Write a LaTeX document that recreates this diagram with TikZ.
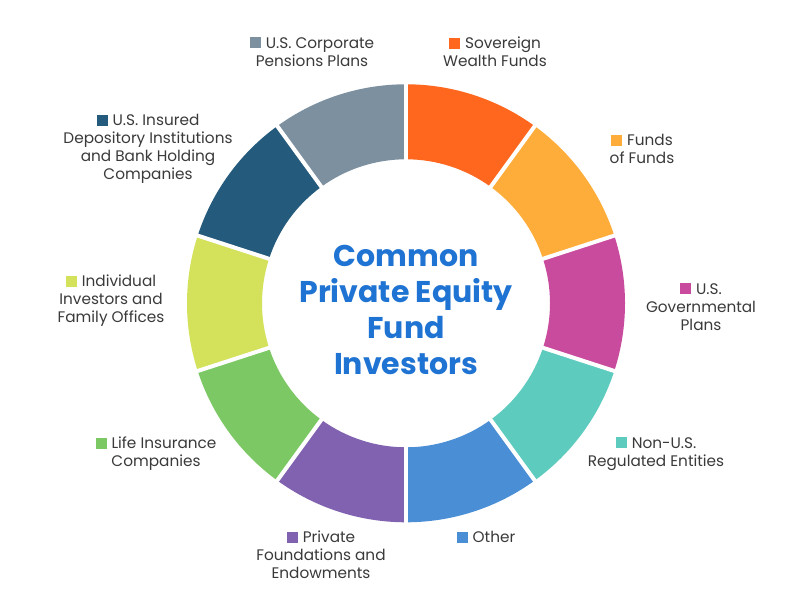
\documentclass[tikz,border=0pt]{standalone}
\usepackage{fontspec}
\setmainfont{Poppins}
\definecolor{cSov}{HTML}{FF671F}
\definecolor{cFof}{HTML}{FFAD3A}
\definecolor{cGov}{HTML}{C94B9D}
\definecolor{cNon}{HTML}{5ECBBF}
\definecolor{cOth}{HTML}{4A8FD6}
\definecolor{cPri}{HTML}{8062B0}
\definecolor{cLif}{HTML}{7CC864}
\definecolor{cInd}{HTML}{D4E15A}
\definecolor{cIns}{HTML}{245A7C}
\definecolor{cCor}{HTML}{7D90A0}
\definecolor{cTitle}{HTML}{1F73D2}
\definecolor{cText}{HTML}{3A3A3A}
\newcommand{\sqmark}[1]{\textcolor{#1}{\rule{11pt}{11pt}}\hspace{5pt}}
\tikzset{
  lab/.style={align=center, text=cText, inner sep=0pt, font=\fontsize{15.3}{18}\selectfont},
  gapline/.style={white, line width=4pt}
}
\begin{document}
\begin{tikzpicture}[x=1pt,y=1pt]
\useasboundingbox[fill=white] (0,0) rectangle (800,607);
\def\Ro{219}
\def\Ri{144}
\begin{scope}[shift={(406,303.7)}]
  \foreach \a/\b/\c in {90/54/cSov, 54/18/cFof, 18/-18/cGov, -18/-54/cNon, -54/-90/cOth,
                        -90/-126/cPri, -126/-162/cLif, -162/-198/cInd, -198/-234/cIns, -234/-270/cCor}{
    \fill[\c] (\a:\Ro) arc[start angle=\a, end angle=\b, radius=\Ro]
              -- (\b:\Ri) arc[start angle=\b, end angle=\a, radius=\Ri] -- cycle;
  }
  \foreach \a in {90,54,18,-18,-54,-90,-126,-162,-198,-234}{
    \draw[gapline] (\a:\Ri-2) -- (\a:\Ro+2);
  }
  \node[text=cTitle, align=center, inner sep=0pt,
        font=\fontsize{30}{36}\bfseries\selectfont] (title) at (0,-6.3)
        {Common\\Private Equity\\Fund\\Investors};
\end{scope}
\node[lab] (cor) at (312,555) {\sqmark{cCor}U.S. Corporate\\Pensions Plans};
\node[lab] (sov) at (495,555) {\sqmark{cSov}Sovereign\\Wealth Funds};
\node[lab] (ins) at (148,458) {\sqmark{cIns}U.S. Insured\\Depository Institutions\\and Bank Holding\\Companies};
\node[lab] (fof) at (642,458) {\sqmark{cFof}Funds\\of Funds};
\node[lab] (gov) at (701,300) {\sqmark{cGov}U.S.\\Governmental\\Plans};
\node[lab] (ind) at (111,306) {\sqmark{cInd}Individual\\Investors and\\Family Offices};
\node[lab] (non) at (656,153) {\sqmark{cNon}Non-U.S.\\Regulated Entities};
\node[lab] (lif) at (156,153) {\sqmark{cLif}Life Insurance\\Companies};
\node[lab] (pri) at (321,52) {\sqmark{cPri}Private\\Foundations and\\Endowments};
\node[lab] (oth) at (486,70) {\sqmark{cOth}Other};
\end{tikzpicture}
\end{document}
